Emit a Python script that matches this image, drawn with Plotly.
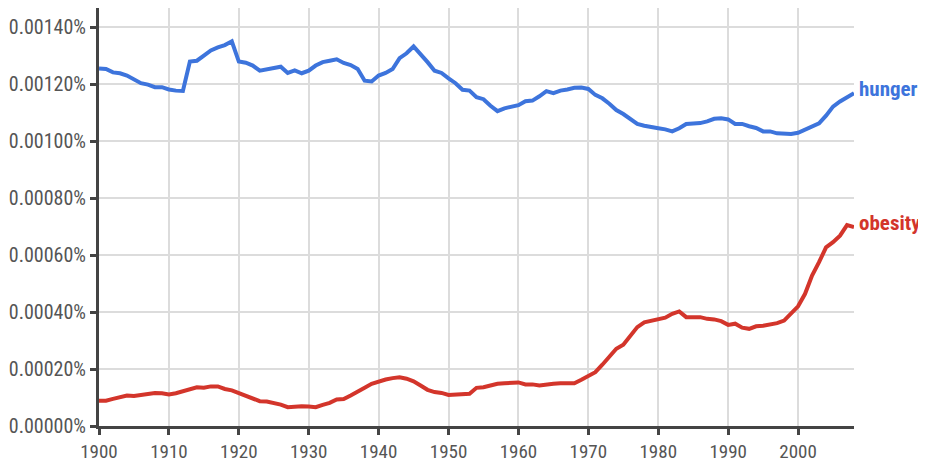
import plotly.graph_objects as go

# values in units of 1e-5 percent (0.00125% -> 125)
years = list(range(1900, 2009))

hunger = [
    125.5, 125.3, 124.1, 123.8, 123.0, 121.5, 120.3, 119.8, 118.9, 118.9,  # 1900s
    118.1, 117.7, 117.6, 127.9, 128.2, 130.0, 131.8, 132.9, 133.7, 135.0,  # 1910s
    127.9, 127.5, 126.5, 124.7, 125.1, 125.4, 126.1, 123.9, 124.8, 123.8,  # 1920s
    124.7, 126.5, 127.7, 128.2, 128.7, 127.4, 126.7, 125.3, 121.2, 120.9,  # 1930s
    123.0, 123.9, 125.3, 129.1, 130.8, 133.2, 130.6, 127.7, 124.7, 123.9,  # 1940s
    122.0, 120.3, 118.0, 117.7, 115.4, 114.7, 112.4, 110.5, 111.5, 112.1,  # 1950s
    112.6, 114.0, 114.2, 115.7, 117.5, 116.8, 117.7, 118.1, 118.7, 118.8,  # 1960s
    118.3, 116.2, 115.0, 113.1, 110.9, 109.5, 107.8, 106.0, 105.4, 105.1,  # 1970s
    104.5, 104.1, 103.4, 104.5, 106.0, 106.2, 106.3, 106.9, 107.8, 108.0,  # 1980s
    107.6, 106.0, 106.0, 105.2, 104.6, 103.4, 103.4, 102.7, 102.7, 102.5,  # 1990s
    102.9, 104.0, 104.8, 106.2, 108.9, 112.1, 113.9, 115.4, 116.8,         # 2000s
]

obesity = [
    8.9, 8.9, 9.5, 10.1, 10.7, 10.5, 10.9, 11.3, 11.6, 11.5,
    11.1, 11.5, 12.1, 12.8, 13.6, 13.4, 13.9, 13.9, 13.0, 12.5,
    11.5, 10.4, 9.5, 8.7, 8.6, 8.1, 7.5, 6.6, 6.9, 6.9,
    6.8, 6.6, 7.4, 8.1, 9.3, 9.5, 10.7, 11.9, 13.4, 14.8,
    15.7, 16.3, 16.8, 17.1, 16.6, 15.7, 14.2, 12.7, 11.9, 11.6,
    10.9, 11.1, 11.3, 11.3, 13.4, 13.6, 14.2, 14.8, 15.0, 15.0,
    15.3, 14.6, 14.6, 14.2, 14.6, 14.8, 15.0, 15.0, 15.0, 16.2,
    17.4, 18.9, 21.5, 24.1, 27.1, 28.5, 31.8, 34.7, 36.4, 37.0,
    37.4, 38.0, 39.4, 40.2, 38.2, 38.2, 38.2, 37.6, 37.4, 36.8,
    35.5, 35.9, 34.5, 34.1, 35.0, 35.2, 35.5, 36.1, 37.0, 39.4,
    42.0, 46.4, 52.8, 57.5, 62.7, 64.5, 66.8, 70.5, 69.8,
]

series = [("hunger", hunger, "#3d74dc"), ("obesity", obesity, "#d3352b")]

y_ticks = [0, 0.0002, 0.0004, 0.0006, 0.0008, 0.0010, 0.0012, 0.0014]
y_labels = ["0.00000%", "0.00020%", "0.00040%", "0.00060%", "0.00080%", "0.00100%", "0.00120%", "0.00140%"]
x_ticks = list(range(1900, 2001, 10))

font_family = "Roboto Condensed, Liberation Sans Narrow, sans-serif"

fig = go.Figure()
for name, vals, col in series:
    pct = [v * 1e-5 for v in vals]
    fig.add_trace(go.Scatter(x=years, y=pct, mode="lines", name=name,
                             line=dict(color=col, width=4)))
    fig.add_annotation(x=1, xref="paper", y=pct[-1], yref="y", text="<b>%s</b>" % name,
                       showarrow=False, xanchor="left", yanchor="middle", xshift=3, yshift=4,
                       font=dict(family=font_family, size=21, color=col))

axis_style = dict(showline=True, linewidth=3, linecolor="#444", ticks="outside", ticklen=6,
                  tickwidth=3, tickcolor="#444", showgrid=True, gridcolor="#dcdcdc", gridwidth=1.5,
                  zeroline=False)

fig.update_xaxes(range=[1900, 2008], tickvals=x_ticks,
                 tickfont=dict(family=font_family, size=19, color="#555"), **axis_style)
fig.update_yaxes(range=[0, 0.001467], tickvals=y_ticks, ticktext=y_labels,
                 tickfont=dict(family=font_family, size=20, color="#555"), **axis_style)

# page body has an 8px margin, so the figure is a bit smaller than the window
fig.update_layout(width=918, height=456, showlegend=False, plot_bgcolor="white", paper_bgcolor="white",
                  margin=dict(l=91, r=72, t=0, b=38))

fig.write_html("out.html")
